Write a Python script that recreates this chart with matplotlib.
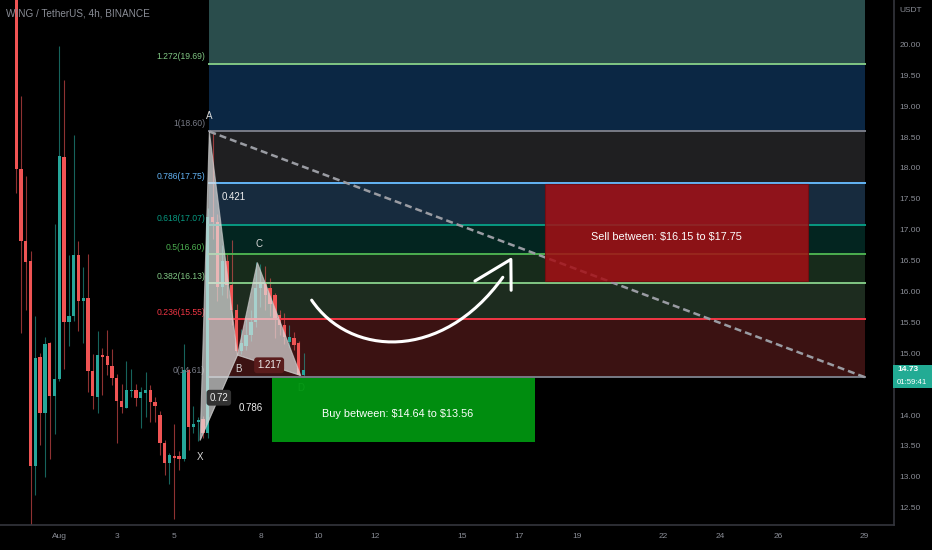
import matplotlib
matplotlib.use("Agg")
import matplotlib.pyplot as plt
from matplotlib.patches import Rectangle, Polygon, PathPatch
from matplotlib.path import Path
import matplotlib.transforms as mtransforms

plt.rcParams['font.family'] = ['Liberation Sans', 'DejaVu Sans']

BG = "#000000"
UP = "#26a69a"
DOWN = "#f05454"
AXIS_TXT = "#8a8d96"
GRID = "#34363d"

# 4h candles, first bar = 30 Jul 12:00 (x axis is days from 1 Aug)
opens = [21.00, 17.99, 16.81, 16.49, 13.17, 14.94, 14.04, 15.17, 14.30, 14.59,
         18.17, 15.51, 15.60, 16.59, 15.85, 15.90, 14.71, 14.29, 14.97, 14.96,
         14.79, 14.60, 14.23, 14.12, 14.39, 14.40, 14.27, 14.36, 14.40, 14.21,
         14.00, 13.55, 13.23, 13.33, 13.33, 13.29, 14.73, 13.81, 13.88, 13.93,
         13.71, 17.21, 17.12, 16.07, 16.50, 16.10, 15.70, 15.03, 15.12, 15.30,
         15.51, 16.05, 16.12, 16.05, 15.95, 15.62, 15.46, 15.19, 15.24, 15.16,
         14.65]
highs = [21.20, 19.16, 17.87, 16.66, 15.60, 15.00, 15.26, 15.19, 17.09, 19.97,
         19.42, 16.59, 18.53, 16.81, 16.40, 16.60, 14.98, 15.36, 15.08, 15.37,
         15.07, 14.67, 14.50, 14.87, 14.75, 14.50, 14.46, 14.70, 14.48, 14.29,
         14.07, 13.60, 13.38, 13.85, 13.41, 15.15, 14.75, 14.15, 13.96, 13.98,
         17.35, 18.60, 17.25, 16.75, 16.60, 16.83, 15.80, 15.40, 15.55, 15.70,
         16.47, 16.45, 16.42, 16.22, 15.98, 15.70, 15.65, 15.46, 15.35, 15.20,
         15.00]
lows = [17.60, 15.33, 15.70, 12.21, 12.70, 13.52, 13.00, 13.29, 13.70, 14.55,
        14.75, 15.11, 15.52, 15.36, 15.16, 14.37, 14.09, 14.03, 14.33, 14.64,
        14.49, 13.54, 14.04, 14.12, 14.29, 14.15, 13.79, 13.96, 13.89, 13.89,
        13.36, 13.03, 12.89, 12.32, 13.11, 13.25, 13.44, 13.71, 13.58, 13.63,
        13.62, 16.85, 15.85, 15.95, 15.90, 15.45, 14.97, 14.98, 15.05, 15.20,
        15.42, 15.75, 15.70, 15.60, 15.25, 15.30, 15.15, 15.10, 15.05, 14.61,
        14.62]
closes = [17.99, 16.81, 16.48, 13.17, 14.92, 14.04, 15.15, 14.30, 14.59, 18.19,
          15.51, 15.60, 16.59, 15.85, 15.90, 14.71, 14.30, 14.97, 14.94, 14.81,
          14.60, 14.23, 14.13, 14.40, 14.40, 14.28, 14.37, 14.40, 14.21, 14.15,
          13.55, 13.23, 13.36, 13.30, 13.29, 14.73, 13.81, 13.85, 13.92, 13.71,
          17.21, 17.12, 16.07, 16.50, 16.10, 15.70, 15.03, 15.16, 15.30, 15.51,
          16.05, 16.12, 15.95, 15.80, 15.57, 15.45, 15.27, 15.27, 15.13, 14.65,
          14.73]
first_bar_day = -1.5

# fibonacci retracement
fib_ratios = ["1.272", "1", "0.786", "0.618", "0.5", "0.382", "0.236", "0"]
fib_prices = [19.69, 18.60, 17.75, 17.07, 16.60, 16.13, 15.55, 14.61]
fib_top = 21.07
fib_line_colors = ["#81c784", "#787b86", "#64b5f6", "#089981", "#4caf50",
                   "#81c784", "#f23645", "#787b86"]
fib_zone_colors = ["#2a4d4c", "#0b2744", "#1f1f21", "#172b3e", "#032520",
                   "#172b1b", "#1d2c1f", "#3b1212"]
fib_start, fib_end = 5.21, 28.04

# XABCD pattern (day, price)
pat_names = ["X", "A", "B", "C", "D"]
pat_days = [4.90, 5.22, 6.20, 6.89, 8.40]
pat_prices = [13.59, 18.59, 14.97, 16.47, 14.64]
ratio_labels = [("A", "C", "0.421"), ("B", "D", "1.217"), ("X", "B", "0.72"), ("X", "D", "0.786")]

sell_zone = (16.90, 26.04, 16.17, 17.74)
buy_zone = (7.39, 16.55, 13.57, 14.60)

y_ticks = [12.5, 13.0, 13.5, 14.0, 15.0, 15.5, 16.0, 16.5, 17.0, 17.5, 18.0, 18.5, 19.0, 19.5, 20.0]
x_ticks = [0, 2, 4, 7, 9, 11, 14, 16, 18, 21, 23, 25, 28]
x_labels = ["Aug", "3", "5", "8", "10", "12", "15", "17", "19", "22", "24", "26", "29"]

fig = plt.figure(figsize=(9.32, 5.5), dpi=100, facecolor=BG)
ax = fig.add_axes([0, 25 / 550, 894 / 932, 525 / 550])
ax.set_facecolor(BG)
ax.set_xlim(-2.063, 29.04)
ax.set_ylim(12.219, 20.72)

# candles
bw = 0.115
for i in range(len(opens)):
    t = first_bar_day + i / 6
    o, h, l, c = opens[i], highs[i], lows[i], closes[i]
    col = UP if c >= o else DOWN
    ax.plot([t, t], [l, h], color=col, lw=0.8, alpha=0.6, zorder=2, solid_capstyle="butt")
    ax.add_patch(Rectangle((t - bw / 2, min(o, c)), bw, max(abs(c - o), 0.015),
                           facecolor=col, edgecolor="none", zorder=3))

# fib zones + lines
uppers = [fib_top] + fib_prices[:-1]
for lo, hi, zc in zip(fib_prices, uppers, fib_zone_colors):
    ax.add_patch(Rectangle((fib_start, lo), fib_end - fib_start, hi - lo,
                           facecolor=zc, edgecolor="none", zorder=1.5))
for r, p, lc in zip(fib_ratios, fib_prices, fib_line_colors):
    ax.plot([fib_start, fib_end], [p, p], color=lc, lw=1.4, zorder=4)
    ax.annotate(f"{r}({p:.2f})", (5.07, p), xytext=(0, 2), textcoords="offset points",
                ha="right", va="bottom", color=lc, fontsize=6.2)

# trend line
ax.plot([pat_days[1], fib_end], [pat_prices[1], fib_prices[-1]], color="#9a9ca3",
        lw=1.8, ls=(0, (2.8, 1.6)), zorder=5)

# harmonic pattern
pts = dict(zip(pat_names, zip(pat_days, pat_prices)))
for tri in [("X", "A", "B"), ("B", "C", "D")]:
    ax.add_patch(Polygon([pts[k] for k in tri], closed=True, facecolor="#e6e6e6",
                         edgecolor="#cfcfcf", lw=0.8, alpha=0.68, zorder=6))
ax.plot([pts["X"][0], pts["B"][0], pts["D"][0]], [pts["X"][1], pts["B"][1], pts["D"][1]],
        color="#cfcfcf", lw=0.6, alpha=0.4, zorder=6)
offsets = {"X": (0, -12), "A": (0, 11), "B": (1, -10), "C": (1, 13), "D": (0, -9)}
for n in pat_names:
    ax.annotate(n, pts[n], xytext=offsets[n], textcoords="offset points", ha="center",
                va="center", color="#d8d8d8" if n != "D" else "#9fcf9f", fontsize=7, zorder=7)
for a, b, txt in ratio_labels:
    mx = (pts[a][0] + pts[b][0]) / 2
    my = (pts[a][1] + pts[b][1]) / 2
    box = None
    if txt in ("1.217", "0.72"):
        box = dict(boxstyle="round,pad=0.3,rounding_size=0.3",
                   facecolor="#5a1c1c" if txt == "1.217" else "#333333", edgecolor="none")
    ax.text(mx, my, txt, ha="center", va="center", color="#eeeeee", fontsize=7,
            bbox=box, zorder=8)

# buy / sell boxes
x0, x1, y0, y1 = sell_zone
ax.add_patch(Rectangle((x0, y0), x1 - x0, y1 - y0, facecolor="#a50f15", edgecolor="#7a0a0e",
                       lw=0.8, alpha=0.85, zorder=9))
ax.text(21.11, 16.88, r"Sell between: \$16.15 to \$17.75", color="white", fontsize=7.8,
        ha="center", va="center", zorder=10)
x0, x1, y0, y1 = buy_zone
ax.add_patch(Rectangle((x0, y0), x1 - x0, y1 - y0, facecolor="#009610", edgecolor="none",
                       alpha=0.95, zorder=9))
ax.text(11.78, 14.02, r"Buy between: \$14.64 to \$13.56", color="white", fontsize=7.8,
        ha="center", va="center", zorder=10)

# hand drawn arrow
curve = Path([(8.78, 15.86), (10.1, 14.95), (13.3, 14.85), (15.43, 16.23)],
             [Path.MOVETO, Path.CURVE4, Path.CURVE4, Path.CURVE4])
ax.add_patch(PathPatch(curve, facecolor="none", edgecolor="white", lw=2.2,
                       capstyle="round", zorder=11))
ax.plot([14.46, 15.71, 15.72], [16.17, 16.52, 16.02], color="white", lw=2.2,
        solid_capstyle="round", solid_joinstyle="round", zorder=11)

# axes styling
for s in ["top", "left"]:
    ax.spines[s].set_visible(False)
for s in ["right", "bottom"]:
    ax.spines[s].set_color(GRID)
    ax.spines[s].set_linewidth(1.2)
ax.yaxis.tick_right()
ax.set_yticks(y_ticks)
ax.set_yticklabels([f"{v:.2f}" for v in y_ticks])
ax.set_xticks(x_ticks)
ax.set_xticklabels(x_labels)
ax.tick_params(axis="y", length=0, pad=4, labelsize=6, labelcolor=AXIS_TXT)
ax.tick_params(axis="x", length=0, pad=6, labelsize=6, labelcolor=AXIS_TXT)

ax.text(6 / 894, 1 - 14 / 525, "WING / TetherUS, 4h, BINANCE", transform=ax.transAxes,
        color="#8a8d96", fontsize=7.2, ha="left", va="center")
fig.text(899 / 932, 1 - 11 / 550, "USDT", color=AXIS_TXT, fontsize=6, ha="left", va="center")

# last price tag
tr = mtransforms.blended_transform_factory(fig.transFigure, ax.transData)
last = closes[-1]
fig.add_artist(Rectangle((893 / 932, last - 0.30), 39 / 932, 0.38, transform=tr,
                         facecolor="#22ab94", edgecolor="none"))
fig.text(897 / 932, last, f"{last:.2f}", transform=tr, color="white", fontsize=6,
         fontweight="bold", ha="left", va="center")
fig.text(897 / 932, last - 0.20, "01:59:41", transform=tr, color="white", fontsize=5.6,
         ha="left", va="center")

plt.savefig("out.png", dpi=100, facecolor=BG)
plt.close()
